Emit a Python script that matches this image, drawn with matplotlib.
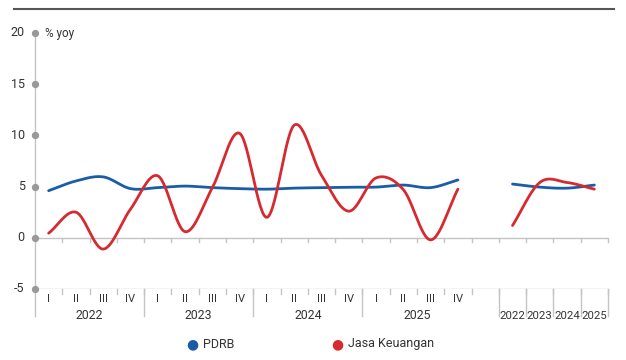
import numpy as np
import matplotlib
matplotlib.use("Agg")
import matplotlib.pyplot as plt
from matplotlib import font_manager as fm

# ---------------- data ----------------
quarters = ["I", "II", "III", "IV"]
years = ["2022", "2023", "2024", "2025"]
pdrb_q = [4.6, 5.55, 5.95, 4.8, 4.9, 5.05, 4.9, 4.8, 4.75, 4.85, 4.9, 4.95, 4.95, 5.15, 4.9, 5.65]
jasa_q = [0.45, 2.5, -1.1, 2.8, 6.05, 0.6, 4.9, 10.2, 2.0, 11.0, 6.1, 2.6, 5.85, 4.7, -0.2, 4.75]
pdrb_y = [5.25, 4.95, 4.85, 5.15]
jasa_y = [1.2, 5.4, 5.4, 4.75]
yticks = [-5, 0, 5, 10, 15, 20]
series_names = ["PDRB", "Jasa Keuangan"]
colors = ["#1a5da6", "#d62a30"]

# font choice
avail = {f.name for f in fm.fontManager.ttflist}
fam = [f for f in ["Liberation Sans Narrow", "Roboto", "DejaVu Sans"] if f in avail]
plt.rcParams["font.family"] = fam


def catmull(xs, ys, n=30, tension=0.5):
    xs = np.asarray(xs, float)
    ys = np.asarray(ys, float)
    P = np.column_stack([xs, ys])
    P = np.vstack([P[0] - (P[1] - P[0]), P, P[-1] + (P[-1] - P[-2])])
    out = []
    for i in range(1, len(P) - 2):
        p0, p1, p2, p3 = P[i - 1], P[i], P[i + 1], P[i + 2]
        m1 = tension * (p2 - p0)
        m2 = tension * (p3 - p1)
        t = np.linspace(0, 1, n)[:, None]
        h00 = 2 * t**3 - 3 * t**2 + 1
        h10 = t**3 - 2 * t**2 + t
        h01 = -2 * t**3 + 3 * t**2
        h11 = t**3 - t**2
        seg = h00 * p1 + h10 * m1 + h01 * p2 + h11 * m2
        out.append(seg if i == 1 else seg[1:])
    arr = np.vstack(out)
    return arr[:, 0], arr[:, 1]


W, H = 626, 360
fig = plt.figure(figsize=(W / 100, H / 100), dpi=100)
L, R, T, B = 35, 608, 33, 289
ax = fig.add_axes([L / W, 1 - B / H, (R - L) / W, (B - T) / H])
ax.set_xlim(0, 21)
ax.set_ylim(-5, 20)
for s in ax.spines.values():
    s.set_visible(False)
ax.set_xticks([])
ax.set_yticks([])

nq = len(pdrb_q)
xq = np.arange(nq) + 0.5
xy = np.arange(len(pdrb_y)) + nq + 1 + 0.5

grid_c = "#c4c4c4"
text_c = "#333333"
# horizontal lines at 0 and -5
ax.plot([0, 21], [0, 0], color=grid_c, lw=1.0, zorder=1)
ax.plot([0, 21], [-5, -5], color=grid_c, lw=1.0, zorder=1)
# y axis line
ax.plot([0, 0], [20, -7.6], color=grid_c, lw=1.0, clip_on=False, zorder=1)
ax.scatter([0] * len(yticks), yticks, s=18, color="#999999", zorder=3, clip_on=False)
for v in yticks:
    ax.text(-0.38, v, str(v), ha="right", va="center", fontsize=9, color=text_c)
ax.text(0.38, 20, "% yoy", ha="left", va="center", fontsize=8.5, color=text_c)

# ticks on zero line and bottom line
for b in range(1, 22):
    ax.plot([b, b], [0, -0.4], color=grid_c, lw=1.0, zorder=1, clip_on=False)
    ax.plot([b, b], [-5, -5.5], color=grid_c, lw=1.0, zorder=1, clip_on=False)
# long group separators
for b in [4, 8, 12, 17, 18, 19, 20, 21]:
    ax.plot([b, b], [-5, -7.6], color=grid_c, lw=1.0, zorder=1, clip_on=False)

# quarter labels
for i in range(nq):
    ax.text(xq[i], -6.0, quarters[i % 4], ha="center", va="center", fontsize=8, color=text_c)
for j, yr in enumerate(years):
    ax.text(j * 4 + 2, -7.6, yr, ha="center", va="center", fontsize=8.8, color=text_c)
    ax.text(xy[j], -7.6, yr, ha="center", va="center", fontsize=8.2, color=text_c)

# lines
for vals_q, vals_y, c in [(pdrb_q, pdrb_y, colors[0]), (jasa_q, jasa_y, colors[1])]:
    sx, sy = catmull(xq, vals_q)
    ax.plot(sx, sy, color=c, lw=2.0, solid_capstyle="round", zorder=4)
    sx, sy = catmull(xy, vals_y)
    ax.plot(sx, sy, color=c, lw=2.0, solid_capstyle="round", zorder=4)

# legend
for (px, name, c) in [(192, series_names[0], colors[0]), (337, series_names[1], colors[1])]:
    fig.text(px / W, 1 - 344 / H, "\u25CF", color=c, fontsize=10, ha="center", va="center",
             family=["DejaVu Sans"])
    fig.text((px + 11) / W, 1 - 344 / H, name, color=text_c, fontsize=9, ha="left", va="center")

# top rule
fig.add_artist(plt.Line2D([14 / W, 614 / W], [1 - 9 / H, 1 - 9 / H], color="#555555", lw=1.5))

fig.savefig("out.png", dpi=100)
